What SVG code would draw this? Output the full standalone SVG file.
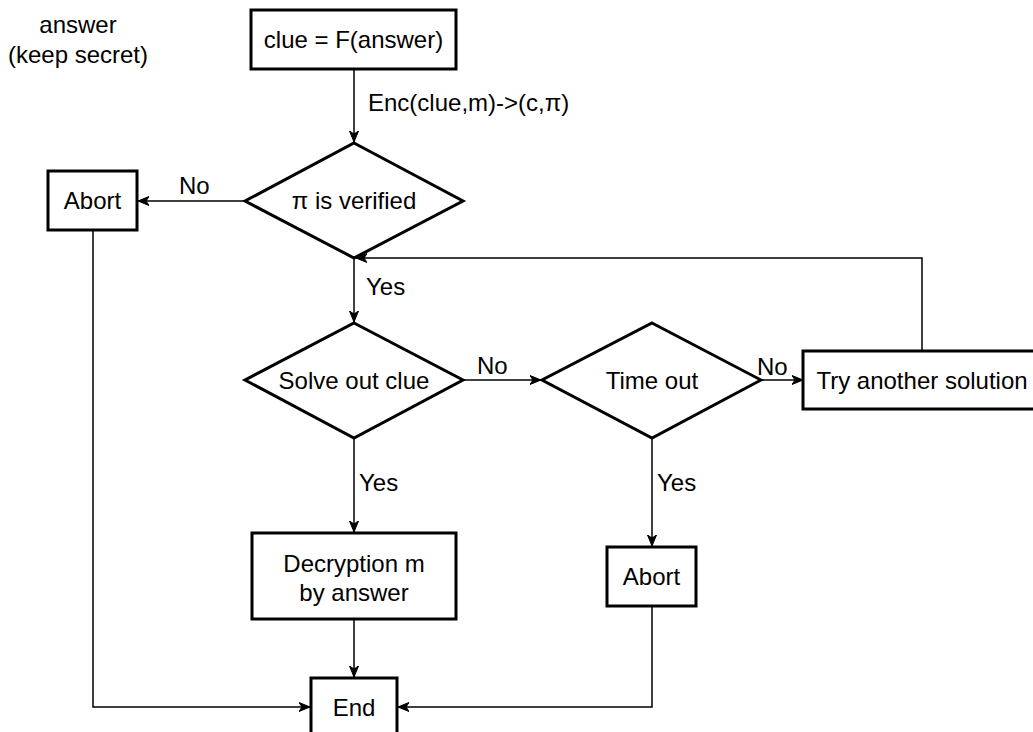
<svg xmlns="http://www.w3.org/2000/svg" width="1033" height="732" viewBox="0 0 1033 732">
<style>
  text { font-family: "Liberation Sans", Arial, Helvetica, sans-serif; font-size: 24px; fill: #000; }
  .c { text-anchor: middle; }
  .node { fill: #fff; stroke: #000; stroke-width: 3; }
  .edge { fill: none; stroke: #000; stroke-width: 1.5; }
</style>
<defs>
  <marker id="arr" markerUnits="userSpaceOnUse" markerWidth="12" markerHeight="10" refX="11" refY="5" orient="auto">
    <path d="M0,0.5 L11,5 L0,9.5 L3,5 Z" fill="#000" stroke="#000" stroke-width="1"/>
  </marker>
</defs>
<rect width="1033" height="732" fill="#fff"/>

<g id="connectors">
  <path class="edge" d="M354,69 V142" marker-end="url(#arr)"/>
  <path class="edge" d="M245,201 H138" marker-end="url(#arr)"/>
  <path class="edge" d="M354,258 V322" marker-end="url(#arr)"/>
  <path class="edge" d="M463,380 H541" marker-end="url(#arr)"/>
  <path class="edge" d="M761,380 H803" marker-end="url(#arr)"/>
  <path class="edge" d="M922,351 V258 H356" marker-end="url(#arr)"/>
  <path class="edge" d="M354,438 V532" marker-end="url(#arr)"/>
  <path class="edge" d="M652,438 V546" marker-end="url(#arr)"/>
  <path class="edge" d="M354,619 V677" marker-end="url(#arr)"/>
  <path class="edge" d="M93,230 V707 H310" marker-end="url(#arr)"/>
  <path class="edge" d="M652,606 V707 H398" marker-end="url(#arr)"/>
  <text x="368" y="111">Enc(clue,m)-&gt;(c,π)</text>
  <text x="179" y="194">No</text>
  <text x="366" y="295">Yes</text>
  <text x="477" y="374">No</text>
  <text x="757" y="375">No</text>
  <text x="359" y="491">Yes</text>
  <text x="657" y="491">Yes</text>
</g>

<g id="secret">
  <text class="c" x="78" y="33">answer</text>
  <text class="c" x="78" y="63">(keep secret)</text>
</g>

<g id="clue">
  <rect class="node" x="251" y="10" width="205" height="59"/>
  <text class="c" x="353.5" y="48">clue = F(answer)</text>
</g>

<g id="verified">
  <polygon class="node" points="354,143 463,201 354,258 245,201"/>
  <text class="c" x="354" y="209">π is verified</text>
</g>

<g id="abort1">
  <rect class="node" x="48" y="171" width="89" height="59"/>
  <text class="c" x="92.5" y="209">Abort</text>
</g>

<g id="solve">
  <polygon class="node" points="354,323 463,380 354,438 245,380"/>
  <text class="c" x="354" y="389">Solve out clue</text>
</g>

<g id="timeout">
  <polygon class="node" points="652,323 761,380 652,438 542,380"/>
  <text class="c" x="652" y="389">Time out</text>
</g>

<g id="tryanother">
  <rect class="node" x="803" y="351" width="240" height="58"/>
  <text class="c" x="922" y="389">Try another solution</text>
</g>

<g id="decrypt">
  <rect class="node" x="252" y="533" width="204" height="86"/>
  <text class="c" x="354" y="572">Decryption m</text>
  <text class="c" x="354" y="601">by answer</text>
</g>

<g id="abort2">
  <rect class="node" x="607" y="547" width="89" height="59"/>
  <text class="c" x="651.5" y="585">Abort</text>
</g>

<g id="end">
  <rect class="node" x="311" y="678" width="86" height="70"/>
  <text class="c" x="354" y="716">End</text>
</g>
</svg>
